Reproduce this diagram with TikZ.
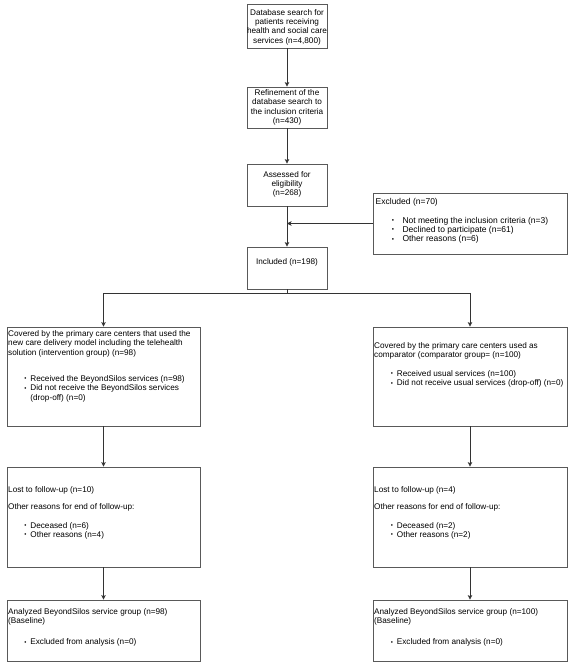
\documentclass[tikz,border=0pt]{standalone}
\usepackage{fontspec}
\setmainfont{Liberation Sans}
\usetikzlibrary{arrows.meta}
\newcommand{\blt}[2]{\hspace*{#1}\makebox[#2][l]{\raisebox{0.6pt}{\scalebox{0.75}{•}}}}
\newcommand{\fl}{\rule{0pt}{7pt}}
\begin{document}
\begin{tikzpicture}[x=1pt,y=-1pt,
  box/.style={draw=black!65,line width=0.8pt,rectangle,inner sep=0pt,fill=white},
  ctext/.style={font=\fontsize{8.2}{9.3}\selectfont,align=center,inner sep=0pt},
  ltext/.style={font=\fontsize{8.2}{9.3}\selectfont,align=left,inner sep=0pt,anchor=north west},
  arr/.style={draw=black!80,line width=0.8pt,-{Stealth[length=4.5pt,width=4.5pt,inset=1pt]}},
  ln/.style={draw=black!80,line width=0.8pt}]
\useasboundingbox (0,0) rectangle (574,668);
\fill[white] (0,0) rectangle (574,668);

% top column
\node[box,minimum width=80pt,minimum height=44pt] (a) at (287,26) {};
\node[ctext] (at) at (287,27) {Database search for\\patients receiving\\health and social care\\services (n=4,800)};
\node[box,minimum width=80pt,minimum height=41pt] (b) at (287,107.5) {};
\node[ctext] (bt) at (287,107.5) {Refinement of the\\database search to\\the inclusion criteria\\(n=430)};
\node[box,minimum width=80pt,minimum height=42pt] (c) at (287,185) {};
\node[ctext] (ct) at (287,184.5) {Assessed for\\eligibility\\(n=268)};
\node[box,minimum width=80pt,minimum height=42pt] (d) at (287,268) {};
\node[ctext] (dt) at (287,262) {Included (n=198)};

% excluded
\node[box,minimum width=194pt,minimum height=61pt] (e) at (470,223.5) {};
\node[ltext,font=\fontsize{8.5}{9.3}\selectfont] (et) at (375.5,197) {\fl Excluded (n=70)\\[9.7pt]
\blt{16.2pt}{10.6pt}Not meeting the inclusion criteria (n=3)\\
\blt{16.2pt}{10.6pt}Declined to participate (n=61)\\
\blt{16.2pt}{10.6pt}Other reasons (n=6)};

% left column
\node[box,minimum width=193pt,minimum height=99pt] (l1) at (103.5,376.5) {};
\node[ltext] (l1t) at (8,329.2) {\fl Covered by the primary care centers that used the\\
new care delivery model including the telehealth\\
solution (intervention group) (n=98)\\[17.1pt]
\blt{16.3pt}{5.9pt}Received the BeyondSilos services (n=98)\\
\blt{16.3pt}{5.9pt}Did not receive the BeyondSilos services\\
\hspace*{22.2pt}(drop-off) (n=0)};
\node[box,minimum width=193pt,minimum height=100pt] (l2) at (103.5,517) {};
\node[ltext] (l2t) at (8,485.2) {\fl Lost to follow-up (n=10)\\[8pt]
Other reasons for end of follow-up:\\[9.1pt]
\blt{16.3pt}{5.9pt}Deceased (n=6)\\
\blt{16.3pt}{5.9pt}Other reasons (n=4)};
\node[box,minimum width=193pt,minimum height=61pt] (l3) at (103.5,630.5) {};
\node[ltext] (l3t) at (8,607) {\fl Analyzed BeyondSilos service group (n=98)\\
(Baseline)\\[11.9pt]
\blt{16.3pt}{5.9pt}Excluded from analysis (n=0)};

% right column
\node[box,minimum width=194pt,minimum height=99pt] (r1) at (470,376.5) {};
\node[ltext] (r1t) at (374,341) {\fl Covered by the primary care centers used as\\
comparator (comparator group= (n=100)\\[9.6pt]
\blt{16.7pt}{6pt}Received usual services (n=100)\\
\blt{16.7pt}{6pt}Did not receive usual services (drop-off) (n=0)};
\node[box,minimum width=194pt,minimum height=100pt] (r2) at (470,517) {};
\node[ltext] (r2t) at (374,485.2) {\fl Lost to follow-up (n=4)\\[8pt]
Other reasons for end of follow-up:\\[9.1pt]
\blt{16.7pt}{6pt}Deceased (n=2)\\
\blt{16.7pt}{6pt}Other reasons (n=2)};
\node[box,minimum width=194pt,minimum height=61pt] (r3) at (470,630.5) {};
\node[ltext] (r3t) at (374,607) {\fl Analyzed BeyondSilos service group (n=100)\\
(Baseline)\\[11.9pt]
\blt{16.7pt}{6pt}Excluded from analysis (n=0)};

% connectors
\draw[arr] (a.south) -- (b.north);
\draw[arr] (b.south) -- (c.north);
\draw[arr] (c.south) -- (d.north);
\draw[arr] (e.west) -- (e.west -| c.south);
\coordinate (br) at (287,293);
\draw[ln] (d.south) -- (br);
\draw[arr] (br) -| (l1.north);
\draw[arr] (br) -| (r1.north);
\draw[arr] (l1.south) -- (l2.north);
\draw[arr] (l2.south) -- (l3.north);
\draw[arr] (r1.south) -- (r2.north);
\draw[arr] (r2.south) -- (r3.north);
\end{tikzpicture}
\end{document}
